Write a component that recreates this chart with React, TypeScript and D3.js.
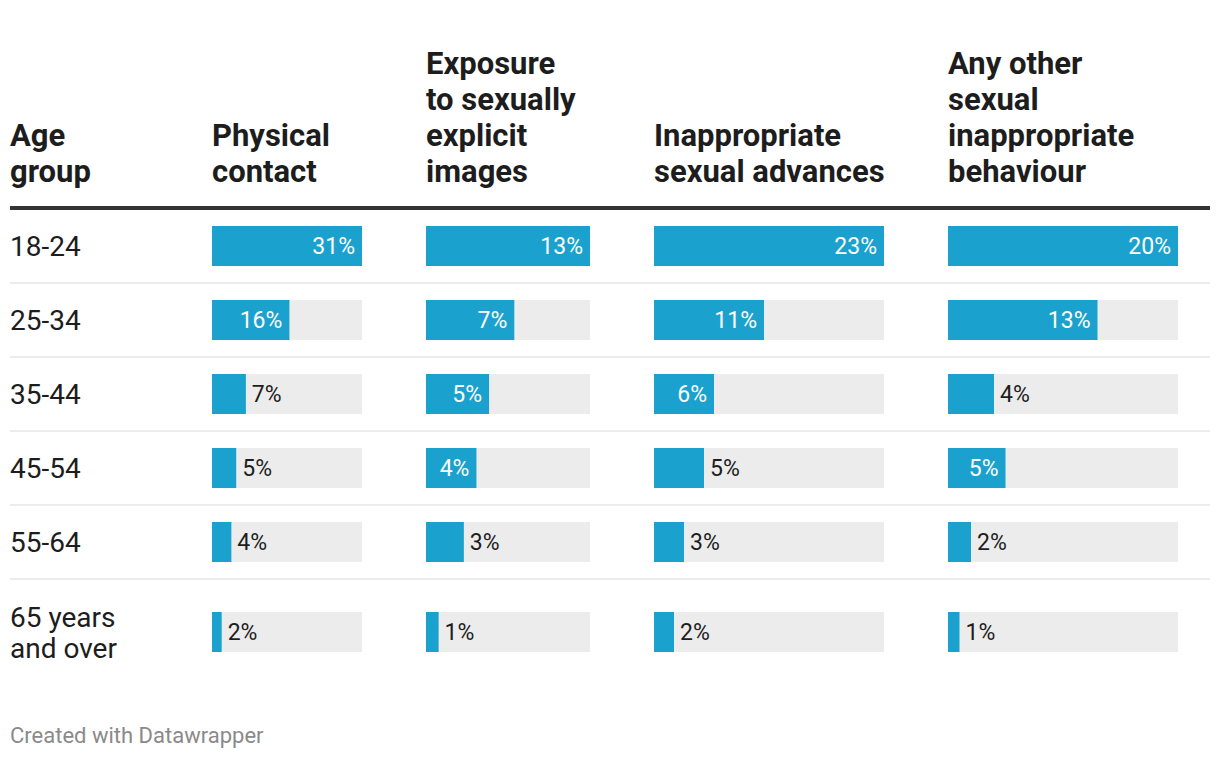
import React from "react";
import * as d3 from "d3";

const ageGroups = ["18-24", "25-34", "35-44", "45-54", "55-64", "65 years\nand over"];
const columnTitles = [
  ["Physical", "contact"],
  ["Exposure", "to sexually", "explicit", "images"],
  ["Inappropriate", "sexual advances"],
  ["Any other", "sexual", "inappropriate", "behaviour"],
];
const physicalContact = [31, 16, 7, 5, 4, 2];
const explicitImages = [13, 7, 5, 4, 3, 1];
const sexualAdvances = [23, 11, 6, 5, 3, 2];
const otherBehaviour = [20, 13, 4, 5, 2, 1];
const series = [physicalContact, explicitImages, sexualAdvances, otherBehaviour];

const W = 1220;
const H = 760;
const FONT = "Roboto, 'Noto Sans', sans-serif";
const BAR = "#1aa1cd";
const TRACK = "#ececec";
const TEXT = "#1d1d1d";

// layout
const colX = [212, 426, 654, 948];
const colW = [150, 164, 230, 230];
const ruleY = 206;
const rowTop = 210;
const rowH = 74;
const barH = 40;

export default function App() {
  const rowStarts = ageGroups.map((_, i) => rowTop + i * rowH);
  const rowCenters = ageGroups.map((_, i) =>
    i < ageGroups.length - 1 ? rowStarts[i] + rowH / 2 - 1 : rowStarts[i] + 52
  );

  const headerLastBaseline = 182;
  const headerLH = 36;

  return (
    <div style={{ position: "absolute", left: 0, top: 0 }}>
      <svg width={W} height={H} style={{ display: "block", background: "#fff" }} fontFamily={FONT}>
        {/* headers */}
        {[["Age", "group"], ...columnTitles].map((lines, ci) => {
          const x = ci === 0 ? 10 : colX[ci - 1];
          return (
            <text key={ci} x={x} fontSize={31} fontWeight={700} fill={TEXT}>
              {lines.map((l, li) => (
                <tspan key={li} x={x} y={headerLastBaseline - (lines.length - 1 - li) * headerLH}>
                  {l}
                </tspan>
              ))}
            </text>
          );
        })}
        <rect x={10} y={ruleY} width={1200} height={4} fill="#333" />

        {/* row separators */}
        {rowStarts.slice(0, -1).map((y, i) => (
          <rect key={i} x={10} y={y + 72} width={1200} height={2} fill="#ececec" />
        ))}

        {/* age labels */}
        {ageGroups.map((g, i) => {
          const lines = g.split("\n");
          const lh = 31;
          const cy = rowCenters[i];
          return (
            <text key={i} x={10} fontSize={28} fill={TEXT}>
              {lines.map((l, li) => (
                <tspan key={li} x={10} y={cy + 10 + (li - (lines.length - 1) / 2) * lh}>
                  {l}
                </tspan>
              ))}
            </text>
          );
        })}

        {/* bars */}
        {series.map((vals, ci) => {
          const x0 = colX[ci];
          const scale = d3.scaleLinear().domain([0, d3.max(vals) as number]).range([0, colW[ci]]);
          return (
            <g key={ci}>
              {vals.map((v, ri) => {
                const cy = rowCenters[ri];
                const bw = scale(v);
                const inside = bw > 50;
                return (
                  <g key={ri}>
                    <rect x={x0} y={cy - barH / 2} width={colW[ci]} height={barH} fill={TRACK} />
                    <rect x={x0} y={cy - barH / 2} width={bw} height={barH} fill={BAR} />
                    <text
                      x={inside ? x0 + bw - 7 : x0 + bw + 6}
                      y={cy + 8}
                      fontSize={23}
                      textAnchor={inside ? "end" : "start"}
                      fill={inside ? "#fff" : TEXT}
                    >
                      {v}%
                    </text>
                  </g>
                );
              })}
            </g>
          );
        })}

        <text x={10} y={743} fontSize={22} fill="#8a8a8a">
          Created with Datawrapper
        </text>
      </svg>
    </div>
  );
}
